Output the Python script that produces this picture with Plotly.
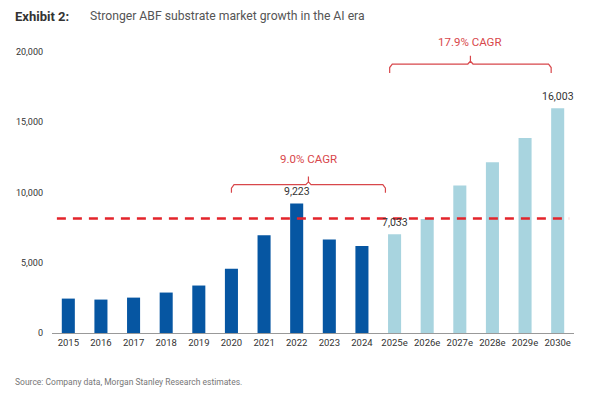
import plotly.graph_objects as go

categories = ["2015", "2016", "2017", "2018", "2019", "2020", "2021", "2022", "2023", "2024",
              "2025e", "2026e", "2027e", "2028e", "2029e", "2030e"]
values = [2450, 2380, 2520, 2880, 3380, 4570, 6960, 9223, 6650, 6200,
          7033, 8120, 10510, 12150, 13880, 16003]
is_estimate = [c.endswith("e") for c in categories]
labelled = {"2022": "9,223", "2025e": "7,033", "2030e": "16,003"}
ref_line_value = 8160
ytick_vals = [0, 5000, 10000, 15000, 20000]
ytick_text = ["0", "5,000", "10,000", "15,000", "20,000"]

# brackets: (start index, end index, top y, end y, peak y, text y, label)
brackets = [
    (5.0, 9.72, 10560, 9990, 11150, 12400, "9.0% CAGR"),
    (9.85, 14.8, 19150, 18510, 19740, 20750, "17.9% CAGR"),
]

DARK = "#0656a2"
LIGHT = "#a8d4df"
RED = "#e3242b"
BRED = "#d8474b"

x_idx = list(range(len(categories)))
fig = go.Figure()
fig.add_trace(go.Bar(
    x=x_idx, y=values,
    marker=dict(color=[LIGHT if e else DARK for e in is_estimate], line=dict(width=0)),
    width=0.4, hoverinfo="skip", showlegend=False,
))

# reference dashed line
fig.add_shape(type="line", xref="x", yref="y", x0=-0.35, x1=15.35,
              y0=ref_line_value, y1=ref_line_value,
              line=dict(color=RED, width=2.5, dash="9px,7px"))

annotations = []
for i, c in enumerate(categories):
    if c in labelled:
        annotations.append(dict(x=i, y=values[i], text=labelled[c], showarrow=False,
                                yanchor="bottom", yshift=3, xref="x", yref="y",
                                font=dict(family="Roboto", size=10.5, color="#333")))

for (x0, x1, ytop, yend, ypeak, ytext, label) in brackets:
    xc = (x0 + x1) / 2
    r = 0.08
    bx = [x0, x0, x0 + r, xc - r, xc, xc, xc, xc + r, x1 - r, x1, x1]
    by = [yend, ytop - 250, ytop, ytop, ytop + 200, ypeak, ytop + 200, ytop, ytop, ytop - 250, yend]
    fig.add_trace(go.Scatter(x=bx, y=by, mode="lines", line=dict(color=BRED, width=1.2),
                             hoverinfo="skip", showlegend=False, cliponaxis=False))
    annotations.append(dict(x=xc, y=ytext, text=label, showarrow=False, xref="x", yref="y",
                            font=dict(family="Roboto", size=11.5, color=BRED)))

annotations.append(dict(x=13, y=16, xanchor="left", yanchor="middle",
                        text="<b>Exhibit 2:</b>", showarrow=False,
                        font=dict(family="Roboto", size=13, color="#333")))
annotations.append(dict(x=88, y=16, xanchor="left", yanchor="middle",
                        text="Stronger ABF substrate market growth in the AI era", showarrow=False,
                        font=dict(family="Roboto", size=12.2, color="#555")))
annotations.append(dict(x=13, y=382, xanchor="left", yanchor="middle",
                        text="Source: Company data, Morgan Stanley Research estimates.", showarrow=False,
                        font=dict(family="Roboto", size=8.5, color="#777")))

# convert pixel-positioned header/footer annotations to paper coordinates
W, H = 597, 393
ML, MR, MT, MB = 52, 23, 24, 60
pw, ph = W - ML - MR, H - MT - MB
for a in annotations[-3:]:
    px, py = a["x"], a["y"]
    a["xref"], a["yref"] = "paper", "paper"
    a["x"] = (px - ML) / pw
    a["y"] = (H - MB - py) / ph

fig.update_layout(
    width=W, height=H,
    margin=dict(l=ML, r=MR, t=MT, b=MB),
    paper_bgcolor="white", plot_bgcolor="white",
    annotations=annotations,
    font=dict(family="Roboto", size=10, color="#333"),
    xaxis=dict(tickvals=x_idx, ticktext=categories, range=[-0.5, 15.5],
               showline=True, linecolor="#999", linewidth=1.2, showgrid=False,
               zeroline=False, ticks="", tickfont=dict(family="Roboto", size=9.5, color="#333")),
    yaxis=dict(range=[0, 22000], tickvals=ytick_vals, ticktext=ytick_text,
               showgrid=False, zeroline=False, showline=False, ticks="",
               ticklabelstandoff=8,
               tickfont=dict(family="Roboto", size=9, color="#333")),
)

fig.write_html("out.html", config={"displayModeBar": False},
               post_script="document.body.style.margin='0';")
